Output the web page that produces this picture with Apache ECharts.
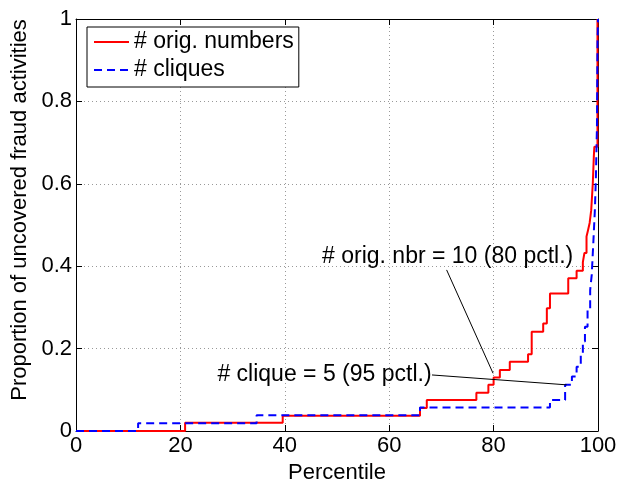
<!DOCTYPE html>
<html>
<head>
<meta charset="utf-8">
<script src="https://cdn.jsdelivr.net/npm/echarts@6/dist/echarts.min.js"></script>
<style>
  html, body { margin: 0; padding: 0; background: #fff; }
  #chart { width: 618px; height: 479px; }
</style>
</head>
<body>
<div id="chart"></div>
<script>
// Percentile at which each step occurs, and the proportion reached there
const pctlOrig = [0, 20.9, 39.6, 65.9, 67.2, 76.7, 79.0, 80.0, 81.2, 83.1, 86.6, 87.3, 89.5, 90.2, 90.8, 94.3, 95.9, 97.1, 97.4, 97.8, 98.1, 98.4, 98.7, 99.0, 99.2, 99.3, 99.9, 100];
const propOrig = [0, 0.020, 0.037, 0.056, 0.075, 0.093, 0.112, 0.130, 0.148, 0.168, 0.186, 0.241, 0.261, 0.298, 0.334, 0.371, 0.389, 0.410, 0.432, 0.472, 0.488, 0.505, 0.536, 0.600, 0.666, 0.690, 1.0, 1.0];

const pctlClique = [0, 11.9, 34.6, 65.9, 90.8, 93.7, 95.0, 95.9, 96.7, 97.1, 97.5, 98.0, 98.5, 98.8, 99.1, 99.4, 99.6, 99.8, 99.9, 100];
const propClique = [0, 0.019, 0.038, 0.057, 0.075, 0.112, 0.132, 0.156, 0.184, 0.217, 0.253, 0.294, 0.342, 0.379, 0.456, 0.536, 0.617, 0.739, 0.94, 1.0];

const seriesNames = ['# orig. numbers', '# cliques'];

// Axis ticks
const xTicks = [0, 20, 40, 60, 80, 100];
const yTicks = [0, 0.2, 0.4, 0.6, 0.8, 1];

// Callouts: text, text anchor, arrow start, arrow end (data units)
const noteOrigText = '# orig. nbr = 10 (80 pctl.)';
const noteOrigAt = [71.2, 0.422];
const noteOrigArrow = [[71.0, 0.391], [79.9, 0.140]];
const noteCliqueText = '# clique = 5 (95 pctl.)';
const noteCliqueAt = [47.6, 0.136];
const noteCliqueArrow = [[68.2, 0.136], [94.0, 0.112]];

const FONT = 'Liberation Sans, Arial, Helvetica, sans-serif';
const zip = (xs, ys) => xs.map((x, i) => [x, ys[i]]);

const tickStep = a => a[1] - a[0];

const boxAxisCommon = {
  axisLine: { show: true, onZero: false, lineStyle: { color: '#000', width: 1 } },
  axisTick: { show: true, inside: true, length: 6, lineStyle: { color: '#000', width: 1 } }
};

const chart = echarts.init(document.getElementById('chart'), null, { renderer: 'canvas' });

chart.setOption({
  animation: false,
  backgroundColor: '#fff',
  textStyle: { fontFamily: FONT },
  grid: { left: 76, right: 20, top: 19, bottom: 48, containLabel: false, outerBoundsMode: 'none' },
  legend: {
    orient: 'vertical',
    left: 87,
    top: 27,
    padding: [2, 5, 4, 6],
    itemGap: 2,
    itemWidth: 35,
    itemHeight: 14,
    backgroundColor: '#fff',
    borderColor: '#000',
    borderWidth: 1,
    borderRadius: 0,
    data: seriesNames,
    itemStyle: { opacity: 0 },
    textStyle: { fontSize: 23, color: '#000', fontFamily: FONT, lineHeight: 26 }
  },
  xAxis: [
    Object.assign({
      type: 'value',
      position: 'bottom',
      min: xTicks[0],
      max: xTicks[xTicks.length - 1],
      interval: tickStep(xTicks),
      name: 'Percentile',
      nameLocation: 'middle',
      nameGap: 25,
      nameTextStyle: { fontSize: 22, color: '#000', fontFamily: FONT },
      axisLabel: { fontSize: 22, color: '#000', margin: 4, fontFamily: FONT },
      splitLine: { show: true, lineStyle: { color: '#999', width: 1, type: [1, 3] } }
    }, boxAxisCommon),
    Object.assign({
      type: 'value',
      position: 'top',
      min: xTicks[0],
      max: xTicks[xTicks.length - 1],
      interval: tickStep(xTicks),
      axisLabel: { show: false },
      splitLine: { show: false }
    }, boxAxisCommon)
  ],
  yAxis: [
    Object.assign({
      type: 'value',
      position: 'left',
      min: yTicks[0],
      max: yTicks[yTicks.length - 1],
      interval: tickStep(yTicks),
      name: 'Proportion of uncovered fraud activities',
      nameLocation: 'middle',
      nameGap: 35,
      nameTextStyle: { fontSize: 22, color: '#000', fontFamily: FONT, padding: [0, 0, 0, 30] },
      axisLabel: { fontSize: 22, color: '#000', margin: 4, fontFamily: FONT,
        formatter: v => String(+v.toFixed(1)) },
      splitLine: { show: true, lineStyle: { color: '#999', width: 1, type: [1, 3] } }
    }, boxAxisCommon),
    Object.assign({
      type: 'value',
      position: 'right',
      min: yTicks[0],
      max: yTicks[yTicks.length - 1],
      interval: tickStep(yTicks),
      axisLabel: { show: false },
      splitLine: { show: false }
    }, boxAxisCommon)
  ],
  series: [
    {
      name: seriesNames[0],
      type: 'line',
      step: 'end',
      xAxisIndex: 0,
      yAxisIndex: 0,
      symbol: 'none',
      data: zip(pctlOrig, propOrig),
      lineStyle: { color: '#ff0000', width: 2 },
      itemStyle: { color: '#ff0000' },
      z: 3,
      markLine: {
        silent: true,
        symbol: ['none', 'arrow'],
        symbolSize: [0, 9],
        label: { show: false },
        lineStyle: { color: '#000', width: 1, type: 'solid' },
        data: [
          [{ coord: noteOrigArrow[0] }, { coord: noteOrigArrow[1] }],
          [{ coord: noteCliqueArrow[0] }, { coord: noteCliqueArrow[1] }]
        ]
      },
      markPoint: {
        silent: true,
        symbol: 'circle',
        symbolSize: 0,
        label: {
          show: true,
          position: 'inside',
          fontSize: 23,
          color: '#000',
          fontFamily: FONT,
          formatter: p => p.name
        },
        data: [
          { name: noteOrigText, coord: noteOrigAt },
          { name: noteCliqueText, coord: noteCliqueAt }
        ]
      }
    },
    {
      name: seriesNames[1],
      type: 'line',
      step: 'end',
      xAxisIndex: 0,
      yAxisIndex: 0,
      symbol: 'none',
      data: zip(pctlClique, propClique),
      lineStyle: { color: '#0000ff', width: 2, type: [8, 5] },
      itemStyle: { color: '#0000ff' },
      z: 4
    }
  ]
});
</script>
</body>
</html>
